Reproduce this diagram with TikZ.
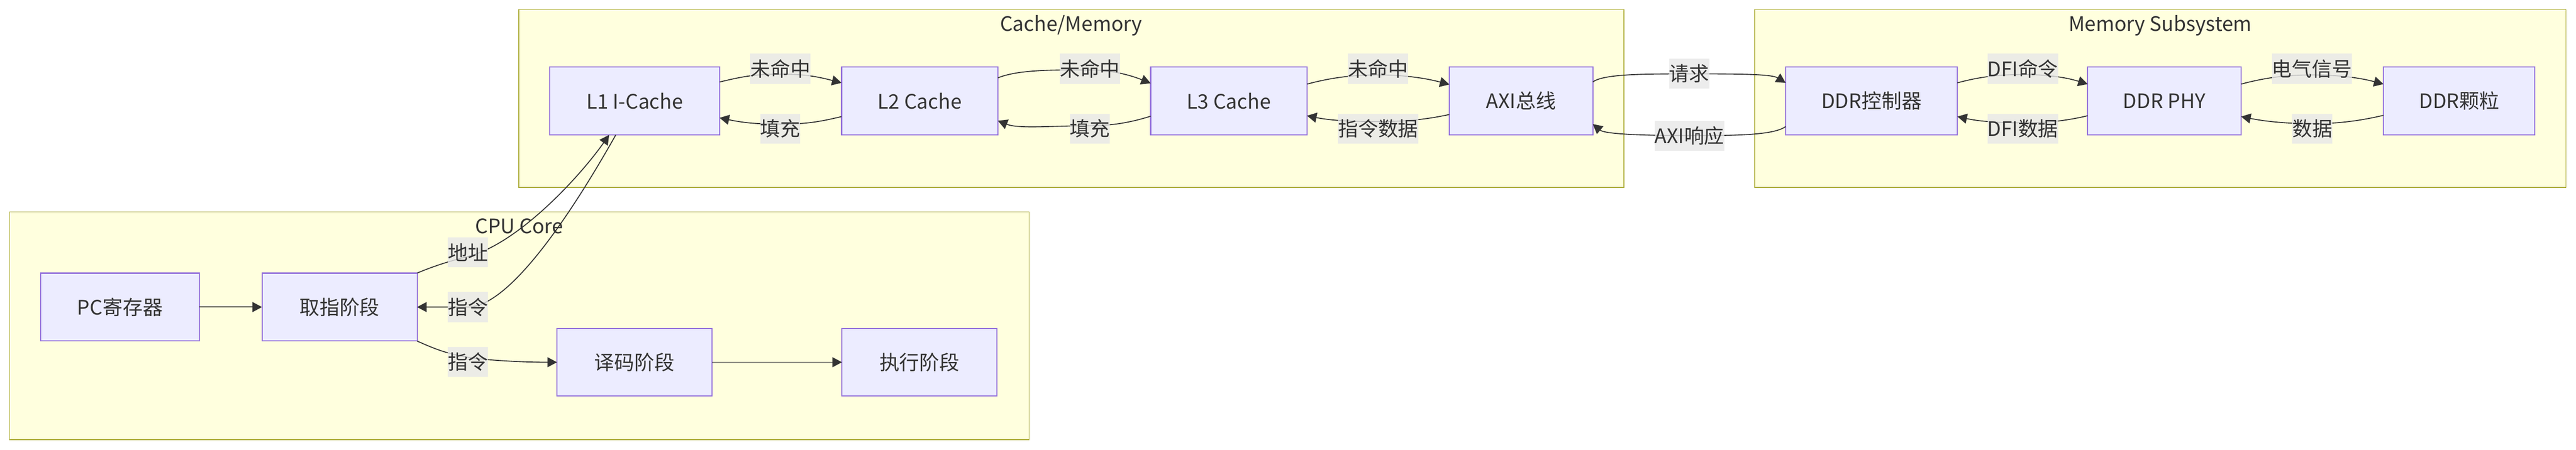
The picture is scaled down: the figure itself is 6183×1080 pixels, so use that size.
\documentclass[tikz,border=0pt]{standalone}
\usepackage{fontspec}
\setmainfont{Noto Sans CJK SC}
\usetikzlibrary{arrows.meta,calc}
\definecolor{nodefill}{HTML}{ECECFF}
\definecolor{nodeline}{HTML}{9370DB}
\definecolor{clusterfill}{HTML}{FFFFDE}
\definecolor{clusterline}{HTML}{AAAA33}
\definecolor{txt}{HTML}{333333}
\definecolor{labelbg}{HTML}{E8E8E8}
\begin{document}
\begin{tikzpicture}[x=0.01cm,y=-0.01cm,
  font=\fontsize{13.66pt}{16pt}\selectfont, text=txt,
  box/.style={draw=nodeline, fill=nodefill, line width=0.75pt, minimum height=1.63cm, inner sep=0pt, outer sep=0pt},
  cluster/.style={draw=clusterline, fill=clusterfill, line width=0.6pt},
  ctitle/.style={anchor=base, inner sep=0pt},
  edge/.style={draw=txt, line width=0.65pt, -{Triangle[length=0.23cm,width=0.24cm]}},
  elabel/.style={fill=labelbg, fill opacity=0.8, text opacity=1, inner xsep=0pt, inner ysep=0pt, minimum height=0.72cm}]
\useasboundingbox (0,0) rectangle (6183,1080);
\fill[white] (0,0) rectangle (6183,1080);
% clusters
\draw[cluster] (23,509) rectangle (2470,1056);
\draw[cluster] (1245,23) rectangle (3898,450);
\draw[cluster] (4212,23) rectangle (6159,450);
\node[ctitle] (tcache) at (2571,75) {Cache/Memory};
\node[ctitle] (tmem) at (5185,75) {Memory Subsystem};
\node[ctitle] (tcpu) at (1246,561) {CPU Core};
% nodes
\node[box, minimum width=4.07cm] (L1) at (1523.5,242.5) {L1 I-Cache};
\node[box, minimum width=3.75cm] (L2) at (2207.5,242.5) {L2 Cache};
\node[box, minimum width=3.75cm] (L3) at (2949.5,242.5) {L3 Cache};
\node[box, minimum width=3.44cm] (AXI) at (3651,242.5) {AXI总线};
\node[box, minimum width=4.12cm] (DDRC) at (4492,242.5) {DDR控制器};
\node[box, minimum width=3.68cm] (PHY) at (5195,242.5) {DDR PHY};
\node[box, minimum width=3.63cm] (CHIP) at (5902.5,242.5) {DDR颗粒};
\node[box, minimum width=3.80cm] (PC) at (288,737.5) {PC寄存器};
\node[box, minimum width=3.72cm] (IF) at (815,737.5) {取指阶段};
\node[box, minimum width=3.72cm, minimum height=1.62cm] (ID) at (1523,870) {译码阶段};
\node[box, minimum width=3.72cm, minimum height=1.62cm] (EX) at (2207,870) {执行阶段};
% label positions
\coordinate (lb1) at (1873,165);
\coordinate (lb2) at (1873,309);
\coordinate (lb3) at (2616,165);
\coordinate (lb4) at (2616,309);
\coordinate (lb5) at (3307.5,165);
\coordinate (lb6) at (3308,309);
\coordinate (lb7) at (4054.5,176.5);
\coordinate (lb8) at (4055,326.5);
\coordinate (lb9) at (4855,165);
\coordinate (lb10) at (4855,309);
\coordinate (lb11) at (5549,165);
\coordinate (lb12) at (5550,309);
\coordinate (lbA) at (1123,606);
\coordinate (lbB) at (1123,737.5);
\coordinate (lbC) at (1123,869.5);
% edges
\draw[edge] ($(L1.east)+(0,-45.5)$) .. controls +(58,-14) and +(-58,0) .. ($(lb1)+(0,13)$) .. controls +(58,0) and +(-58,-15) .. ($(L2.west)+(0,-43.5)$);
\draw[edge] ($(L2.west)+(0,37.5)$) .. controls +(-58,14) and +(58,0) .. ($(lb2)+(0,-11)$) .. controls +(-58,0) and +(58,12) .. ($(L1.east)+(0,40.5)$);
\draw[edge] ($(L2.east)+(0,-55.5)$) .. controls +(50,-20) and +(-90,0) .. ($(lb3)+(0,3)$) .. controls +(50,0) and +(-50,-20) .. ($(L3.west)+(0,-42.5)$);
\draw[edge] ($(L3.west)+(0,36.5)$) .. controls +(-50,16) and +(50,0) .. ($(lb4)+(0,-7)$) .. controls +(-90,0) and +(50,20) .. ($(L2.east)+(0,47.5)$);
\draw[edge] ($(L3.east)+(0,-40.5)$) .. controls +(60,-16) and +(-60,0) .. ($(lb5)+(0,15)$) .. controls +(60,0) and +(-60,-16) .. ($(AXI.west)+(0,-39.5)$);
\draw[edge] ($(AXI.west)+(0,32.5)$) .. controls +(-60,13) and +(60,0) .. ($(lb6)+(0,-17)$) .. controls +(-60,0) and +(60,12) .. ($(L3.east)+(0,35.5)$);
\draw[edge] ($(AXI.east)+(0,-45.5)$) .. controls +(25,-20) and +(-100,0) .. ($(lb7)+(0,1)$) .. controls +(100,0) and +(-35,-22) .. ($(DDRC.west)+(0,-43.5)$);
\draw[edge] ($(DDRC.west)+(0,61.5)$) .. controls +(-30,22) and +(100,0) .. ($(lb8)+(0,-1)$) .. controls +(-100,0) and +(30,25) .. ($(AXI.east)+(0,55.5)$);
\draw[edge] ($(DDRC.east)+(0,-43.5)$) .. controls +(55,-15) and +(-55,0) .. ($(lb9)+(0,14)$) .. controls +(55,0) and +(-55,-17) .. ($(PHY.west)+(0,-40.5)$);
\draw[edge] ($(PHY.west)+(0,35.5)$) .. controls +(-55,13) and +(55,0) .. ($(lb10)+(0,-14)$) .. controls +(-55,0) and +(55,12) .. ($(DDRC.east)+(0,37.5)$);
\draw[edge] ($(PHY.east)+(0,-40.5)$) .. controls +(60,-16) and +(-60,0) .. ($(lb11)+(0,15)$) .. controls +(60,0) and +(-60,-16) .. ($(CHIP.west)+(0,-40.5)$);
\draw[edge] ($(CHIP.west)+(0,34.5)$) .. controls +(-60,14) and +(60,0) .. ($(lb12)+(0,-12)$) .. controls +(-60,0) and +(60,12) .. ($(PHY.east)+(0,37.5)$);
\draw[edge] (PC.east) -- (IF.west);
\draw[edge] (ID.east) -- (EX.west);
\draw[edge] (IF.north east) .. controls +(40,-17) and +(-40,10) .. ($(lbA)+(0,10)$) .. controls +(120,-30) and +(-70,100) .. ($(L1.south)+(-61.5,0)$);
\draw[edge] ($(L1.south)+(-45.5,0)$) .. controls +(-88,156) and +(107,0) .. (lbB) -- (IF.east);
\draw[edge] (IF.south east) .. controls +(40,18) and +(-50,-8) .. ($(lbC)+(0,-11.5)$) .. controls +(50,8) and +(-80,0) .. (ID.west);
% edge labels
\node[elabel] (t1) at (lb1) {未命中};
\node[elabel] (t2) at (lb2) {填充};
\node[elabel] (t3) at (lb3) {未命中};
\node[elabel] (t4) at (lb4) {填充};
\node[elabel] (t5) at (lb5) {未命中};
\node[elabel] (t6) at (lb6) {指令数据};
\node[elabel] (t7) at (lb7) {请求};
\node[elabel] (t8) at (lb8) {AXI响应};
\node[elabel] (t9) at (lb9) {DFI命令};
\node[elabel] (t10) at (lb10) {DFI数据};
\node[elabel] (t11) at (lb11) {电气信号};
\node[elabel] (t12) at (lb12) {数据};
\node[elabel] (tA) at (lbA) {地址};
\node[elabel] (tB) at (lbB) {指令};
\node[elabel] (tC) at (lbC) {指令};
\end{tikzpicture}
\end{document}
